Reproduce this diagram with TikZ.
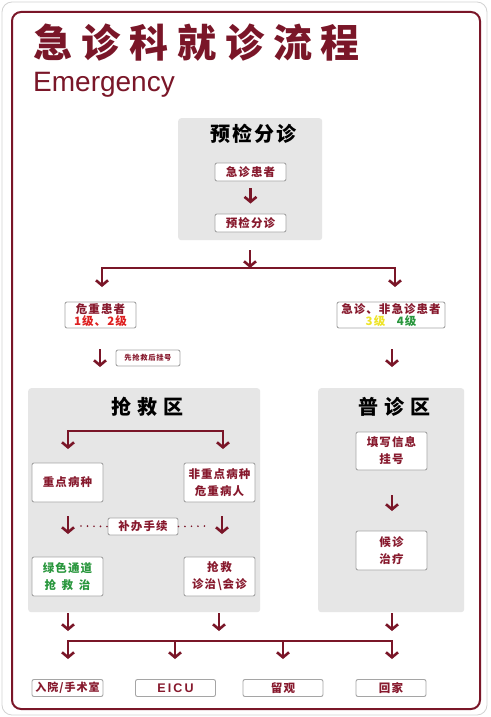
\documentclass[tikz,border=0pt]{standalone}
\usepackage{fontspec}
\setmainfont{Liberation Sans}
\newfontfamily\cjk{Noto Sans CJK SC}[LetterSpace=9]
\newfontfamily\cjktitle{Noto Sans CJK SC}[LetterSpace=23]
\newfontfamily\cjkhead{Noto Sans CJK SC}[LetterSpace=10]
\usetikzlibrary{arrows.meta}
\definecolor{dr}{RGB}{122,22,40}
\definecolor{boxtext}{RGB}{135,25,45}
\definecolor{zonegray}{RGB}{230,230,230}
\definecolor{boxgray}{RGB}{165,165,165}
\definecolor{lvred}{RGB}{222,32,32}
\definecolor{lvyellow}{RGB}{238,228,40}
\definecolor{lvgreen}{RGB}{40,150,60}
\begin{document}
\begin{tikzpicture}[x=1pt,y=-1pt,
  frame/.style={draw=dr, line width=2pt, rounded corners=9pt},
  zone/.style={fill=zonegray, rounded corners=3pt, inner sep=0, anchor=north west},
  zonetitle/.style={font=\cjkhead\bfseries\fontsize{20}{22}\selectfont, text=black, inner sep=0},
  box/.style={draw=boxgray, fill=white, rounded corners=2pt, line width=0.9pt, text=boxtext,
    font=\cjk\bfseries\fontsize{11.5}{17}\selectfont, align=center, inner sep=0},
  conn/.style={draw=dr, line width=2.4pt, line cap=rect},
  arr/.style={draw=dr, line width=2.6pt, -{Straight Barb[length=5pt,width=12pt]}},
  dots/.style={draw=dr, line width=1.8pt, line cap=round, dash pattern=on 0pt off 6.5pt}]
\useasboundingbox (0,0) rectangle (490,717);
\fill[white] (0,0) rectangle (490,717);
\draw[gray!35, line width=0.8pt, rounded corners=10pt] (2,2) rectangle (487,715);
\draw[frame] (12,12) rectangle (480,709);

% title
\node[anchor=base west, inner sep=0, text=dr, font=\cjktitle\bfseries\fontsize{39}{40}\selectfont] (title) at (33,58) {急诊科就诊流程};
\node[anchor=base west, inner sep=0, text=dr, font=\fontsize{28}{30}\selectfont] (eng) at (33,92) {Emergency};

% triage zone
\node[zone, minimum width=144pt, minimum height=122pt] (tri) at (178,118) {};
\node[zonetitle] (tritit) at (253,134) {预检分诊};
\node[box, minimum width=71pt, minimum height=18pt] (pat) at (250.5,172) {急诊患者};
\node[box, minimum width=71pt, minimum height=18pt] (pre) at (250.5,223) {预检分诊};
\draw[arr, shorten <=7pt, shorten >=10pt] (pat) -- (pre);

% split
\coordinate (s0) at (250,250);
\coordinate (s1) at (250,268);
\coordinate (jL) at (102,268);
\coordinate (jR) at (395,268);
\coordinate (aL) at (102,287);
\coordinate (aR) at (395,287);
\draw[arr] (s0) -- (s1);
\draw[conn] (jL) -- (jR);
\draw[arr] (jL) -- (aL);
\draw[arr] (jR) -- (aR);

\node[box, minimum width=71pt, minimum height=26pt, font=\cjk\bfseries\fontsize{11.5}{12.5}\selectfont] (crit) at (100.5,315)
  {危重患者\\\textcolor{lvred}{1级、2级}};
\node[box, minimum width=108pt, minimum height=26pt, font=\cjk\bfseries\fontsize{11.5}{12.5}\selectfont] (gen) at (391,315)
  {急诊、非急诊患者\\\textcolor{lvyellow}{3级}\quad\textcolor{lvgreen}{4级}};

\coordinate (cL0) at (100,349);
\coordinate (cL1) at (100,367);
\coordinate (cR0) at (392,349);
\coordinate (cR1) at (392,367);
\draw[arr] (cL0) -- (cL1);
\draw[arr] (cR0) -- (cR1);
\node[box, minimum width=64pt, minimum height=16pt, font=\cjk\bfseries\fontsize{7.3}{8}\selectfont] (first) at (148,358) {先抢救后挂号};

% rescue zone
\node[zone, minimum width=232pt, minimum height=224pt] (res) at (28,388) {};
\node[zonetitle] (restit) at (147,407) {抢\hspace{6pt}救\hspace{6pt}区};
\coordinate (rL) at (68,431);
\coordinate (rR) at (223,431);
\coordinate (rLa) at (68,449);
\coordinate (rRa) at (223,449);
\draw[conn] (rL) -- (rR);
\draw[arr] (rL) -- (rLa);
\draw[arr] (rR) -- (rRa);
\node[box, minimum width=71pt, minimum height=39pt] (key) at (67.5,482.5) {重点病种};
\node[box, minimum width=71pt, minimum height=39pt] (nonkey) at (219.5,482.5) {非重点病种\\危重病人};
\coordinate (mL0) at (68,516);
\coordinate (mL1) at (68,534);
\coordinate (mR0) at (222,516);
\coordinate (mR1) at (222,534);
\draw[arr] (mL0) -- (mL1);
\draw[arr] (mR0) -- (mR1);
\node[box, minimum width=70pt, minimum height=17pt, font=\cjk\bfseries\fontsize{11.5}{12}\selectfont] (supp) at (143,526.5) {补办手续};
\coordinate (dL) at (81,526);
\draw[dots] (dL) -- (supp.west);
\coordinate (dR) at (210,526);
\draw[dots] (supp.east) -- (dR);
\node[box, minimum width=71pt, minimum height=39pt, text=lvgreen] (green) at (67.5,576.5) {绿色通道\\抢\enspace 救\enspace 治};
\node[box, minimum width=71pt, minimum height=39pt] (resc) at (219.5,576.5) {抢\,救\\诊治\textbackslash 会诊};

% general zone
\node[zone, minimum width=146pt, minimum height=224pt] (gz) at (318,388) {};
\node[zonetitle] (gztit) at (394,407) {普\hspace{6pt}诊\hspace{6pt}区};
\node[box, minimum width=71pt, minimum height=38pt] (reg) at (391.5,451) {填写信息\\挂号};
\coordinate (g0) at (392,495);
\coordinate (g1) at (392,511);
\draw[arr] (g0) -- (g1);
\node[box, minimum width=71pt, minimum height=39pt] (wait) at (391.5,550.5) {候诊\\治疗};

% bottom
\coordinate (b1s) at (68,613);
\coordinate (b1e) at (68,631);
\coordinate (b2s) at (219,613);
\coordinate (b2e) at (219,631);
\coordinate (b3s) at (392,613);
\coordinate (b3e) at (392,631);
\draw[arr] (b1s) -- (b1e);
\draw[arr] (b2s) -- (b2e);
\draw[arr] (b3s) -- (b3e);
\coordinate (hL) at (68,641);
\coordinate (hR) at (392,641);
\draw[conn] (hL) -- (hR);
\coordinate (o1) at (68,659);
\coordinate (o2s) at (175,641);
\coordinate (o2) at (175,659);
\coordinate (o3s) at (283,641);
\coordinate (o3) at (283,659);
\coordinate (o4) at (392,659);
\draw[arr] (hL) -- (o1);
\draw[arr] (o2s) -- (o2);
\draw[arr] (o3s) -- (o3);
\draw[arr] (hR) -- (o4);

\node[box, minimum width=71pt, minimum height=17pt, font=\cjk\bfseries\fontsize{11}{12}\selectfont] (adm) at (67.5,688) {入院/手术室};
\node[box, minimum width=80pt, minimum height=17pt, font=\bfseries\fontsize{12.5}{13}\selectfont] (eicu) at (175.5,688) {E\,I\,C\,U};
\node[box, minimum width=80pt, minimum height=17pt] (obs) at (283,688) {留观};
\node[box, minimum width=70pt, minimum height=17pt] (home) at (391,688) {回家};
\end{tikzpicture}
\end{document}
